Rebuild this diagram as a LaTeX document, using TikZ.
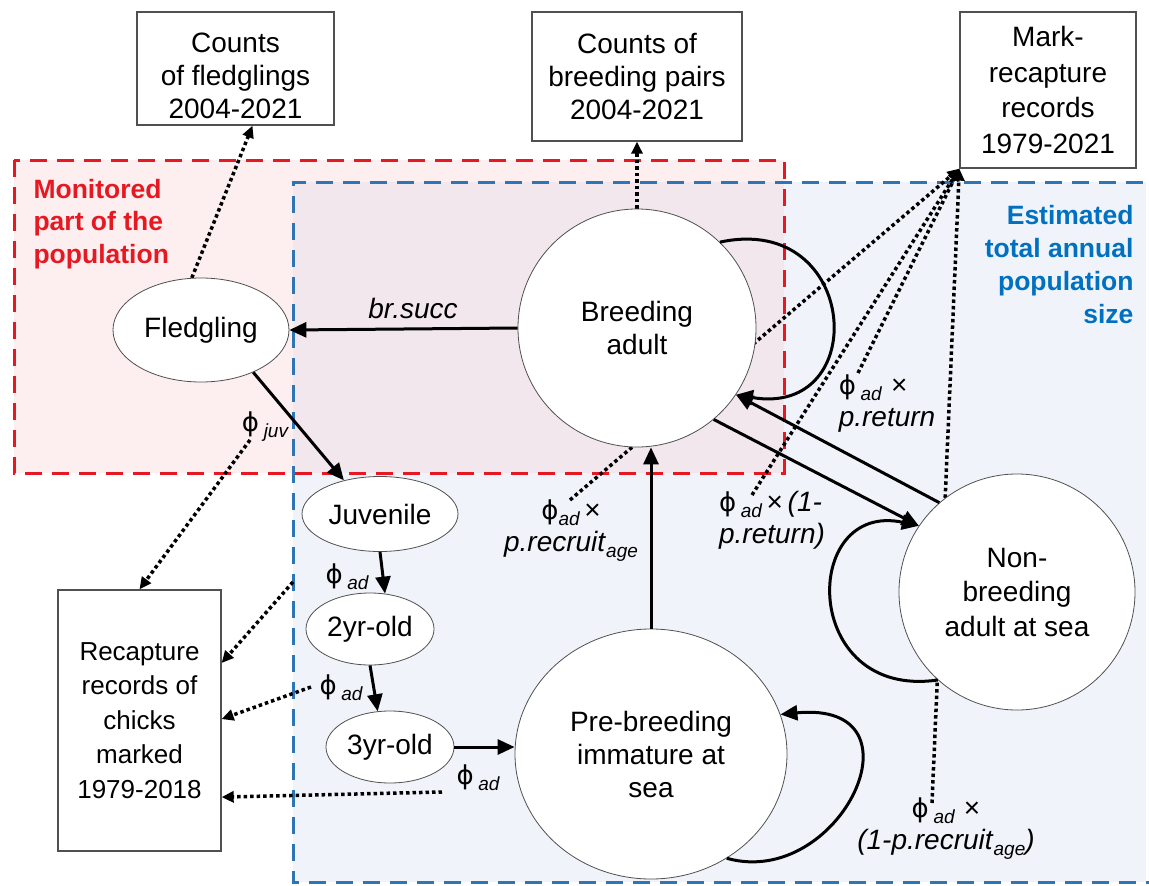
\documentclass[tikz,border=0pt]{standalone}
\usepackage{fontspec}
\setmainfont{Liberation Sans}
\newfontfamily\phifont{DejaVu Sans}
\usetikzlibrary{arrows.meta,shapes.geometric,calc}
\definecolor{redline}{RGB}{230,25,35}
\definecolor{blueline}{RGB}{46,117,182}
\definecolor{bluetext}{RGB}{0,112,192}
\definecolor{redfill}{RGB}{253,238,239}
\definecolor{bluefill}{RGB}{240,244,250}
\definecolor{overfill}{RGB}{242,231,236}
\definecolor{edgegray}{RGB}{80,80,80}
\newcommand{\lsub}[1]{\raisebox{-6pt}{\fontsize{19}{19}\selectfont\itshape #1}}
\newcommand{\myphi}{{\phifont\fontsize{26}{26}\selectfont\upshape ϕ}}
\pgfdeclarelayer{bg}
\pgfdeclarelayer{dots}
\pgfsetlayers{bg,dots,main}
\begin{document}
\begin{tikzpicture}[x=1pt,y=-1pt,
  every node/.style={font=\fontsize{28}{33}\selectfont},
  box/.style={draw=edgegray, line width=1.3pt, fill=white, align=center, inner sep=0pt},
  stateell/.style={draw=edgegray, line width=0.8pt, fill=white, ellipse, align=center, inner sep=0pt},
  statecirc/.style={draw=edgegray, line width=0.8pt, fill=white, circle, align=center, inner sep=0pt},
  flow/.style={line width=3pt, -{Triangle[length=17pt,width=15pt]}},
  obs/.style={line width=3.5pt, dash pattern=on 3.5pt off 3pt, -{Triangle[length=12pt,width=11pt]}},
  lbl/.style={font=\fontsize{28}{32}\selectfont, inner sep=0pt},
  reddash/.style={draw=redline, line width=3pt, dash pattern=on 17pt off 10pt},
  bluedash/.style={draw=blueline, line width=3pt, dash pattern=on 17pt off 10pt},
]
\useasboundingbox (0,0) rectangle (1149,886);

\begin{pgfonlayer}{bg}
\fill[bluefill] (293,182) rectangle (1146,882);
\fill[redfill] (14,160) rectangle (784,473);
\fill[overfill] (293,182) rectangle (784,473);
\draw[reddash] (14,160) rectangle (784,473);
\draw[bluedash] (1170,182) -- (293,182) -- (293,882) -- (1170,882);
\end{pgfonlayer}

% region titles
\node[text=redline, font=\fontsize{26.5}{32.5}\selectfont\bfseries, align=left, anchor=west] (mon) at (30,224) {Monitored\\part of the\\population};
\node[text=bluetext, font=\fontsize{26.5}{33}\selectfont\bfseries, align=right, anchor=east] (est) at (1137,265) {Estimated\\total annual\\population\\size};

% data boxes
\node[box, minimum width=197pt, minimum height=113pt] (fbox) at (235.5,68.5) {\rule{0pt}{34pt}Counts\\of fledglings\\2004-2021};
\node[box, minimum width=210pt, minimum height=129pt] (pbox) at (637,76.5) {Counts of\\breeding pairs\\2004-2021};
\node[box, minimum width=176pt, minimum height=156pt, font=\fontsize{28}{35.5}\selectfont] (mbox) at (1048,90) {Mark-\\recapture\\records\\1979-2021};
\node[box, minimum width=163pt, minimum height=261pt, font=\fontsize{26}{34.5}\selectfont] (rbox) at (139.5,720.5) {Recapture\\records of\\chicks\\marked\\1979-2018};

% states
\node[stateell, minimum width=176pt, minimum height=104pt] (fled) at (201,330) {Fledgling};
\node[statecirc, minimum size=238pt] (breed) at (637,328) {Breeding\\adult};
\node[stateell, minimum width=156pt, minimum height=75pt] (juv) at (380,514) {Juvenile};
\node[stateell, minimum width=128pt, minimum height=72pt] (two) at (370,629) {2yr-old};
\node[stateell, minimum width=128pt, minimum height=72pt] (three) at (390,747) {3yr-old};
\node[stateell, minimum width=272pt, minimum height=250pt] (pre) at (651,754) {Pre-breeding\\immature at\\sea};
\node[statecirc, minimum size=236pt, font=\fontsize{28}{34.5}\selectfont] (non) at (1017,592) {Non-\\breeding\\adult at sea};

% labels
\node[lbl, font=\fontsize{28}{32}\itshape] (lbr) at (413,308) {br.succ};
\node[lbl] (ljuv) at (265,427) {\myphi\,\lsub{juv}};
\node[lbl] (la1) at (347,577) {\myphi\,\lsub{ad}};
\node[lbl] (la2) at (341,688) {\myphi\,\lsub{ad}};
\node[lbl] (la3) at (478,778) {\myphi\,\lsub{ad}};
\node[lbl, align=center] (lrec) at (571,531) {\myphi\lsub{ad}\,×\\\textit{p.recruit}\lsub{age}};
\node[lbl, align=left] (lret1) at (772,520) {\myphi\,\lsub{ad}\,×\,\textit{(1-}\\\textit{p.return)}};
\node[lbl, align=left] (lret) at (887,404) {\myphi\,\lsub{ad}\,\,×\\\textit{p.return}};
\node[lbl, align=center] (lnr) at (946,829) {\myphi\,\lsub{ad}\,\,×\\\textit{(1-p.recruit}\lsub{age}\textit{)}};

% free ends of observation links
\coordinate (o1) at (250,440);
\coordinate (o2) at (293,582);
\coordinate (o3) at (311,687);
\coordinate (o4) at (442,792);
\coordinate (m1) at (570,500);
\coordinate (m2) at (752,495);
\coordinate (m3) at (858,373);
\coordinate (m4) at (932,803);

\begin{pgfonlayer}{dots}
\draw[obs] (fled.100) -- ([xshift=17pt]fbox.south);
\draw[obs] (breed.north) -- (pbox.south);
\draw[obs] (m1) -- (mbox.south west);
\draw[obs] (m2) -- (mbox.south west);
\draw[obs] (m3) -- (mbox.south west);
\draw[obs] (m4) -- (mbox.south west);
\draw[obs] (o1) -- (rbox.north);
\draw[obs] (o2) -- (rbox.35);
\draw[obs] (o3) -- (rbox.1);
\draw[obs] (o4) -- (rbox.-43);
\end{pgfonlayer}

% transitions
\draw[flow] (breed.west) -- (fled.east);
\draw[flow] (fled.-39) -- (juv.137);
\draw[flow] (juv.south) -- (two.67);
\draw[flow] (two.south) -- (three.109);
\draw[flow] (three.east) -- (three.east -| pre.west);
\draw[flow] (pre.north) -- (pre.north |- breed.south);
\draw[flow] (breed.-50) -- (non.146);
\draw[flow] (non.131) -- (breed.-34);
\draw[flow] (breed.46) .. controls (860,212) and (872,418) .. (breed.-34);
\draw[flow] (non.-132) .. controls (800,700) and (800,500) .. (non.146);
\draw[flow] (pre.-54) .. controls (840,890) and (930,700) .. (pre.17);
\end{tikzpicture}
\end{document}
